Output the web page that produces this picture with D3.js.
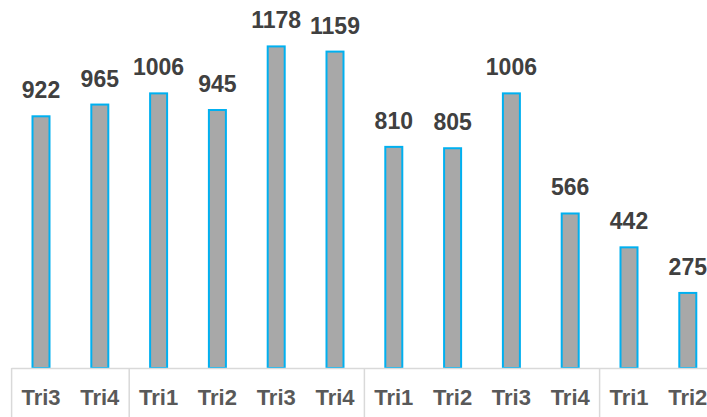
<!DOCTYPE html>
<head>
  <style>
    body { margin: 0; background: #fff; }
    .value-label {
      font-family: "Liberation Sans", Arial, sans-serif;
      font-size: 23px;
      font-weight: bold;
      fill: #404040;
    }
    .tick-label {
      font-family: "Liberation Sans", Arial, sans-serif;
      font-size: 22px;
      font-weight: bold;
      fill: #595959;
    }
  </style>
  <title>Trimestres</title>
</head>
<body>
  <script src="https://cdn.jsdelivr.net/npm/d3@7"></script>
  <script>
    // data
    const quarters = ["Tri3", "Tri4", "Tri1", "Tri2", "Tri3", "Tri4", "Tri1", "Tri2", "Tri3", "Tri4", "Tri1", "Tri2"];
    const values = [922, 965, 1006, 945, 1178, 1159, 810, 805, 1006, 566, 442, 275];

    const W = 707, H = 417;
    const baseY = 368;

    const data = quarters.map((q, i) => ({ i: i, q: q, v: values[i] }));

    const x = d3.scaleBand()
      .domain(data.map(d => d.i))
      .range([11.6, 11.6 + 12 * 58.8])
      .paddingInner(0)
      .paddingOuter(0);

    const y = d3.scaleLinear()
      .domain([0, 1348])
      .range([baseY, 0]);

    const svg = d3.select("body").append("svg")
      .attr("width", W)
      .attr("height", H);

    const barW = 17;

    // bars
    svg.append("g").selectAll("rect")
      .data(data)
      .enter()
      .append("rect")
      .attr("x", d => x(d.i) + x.bandwidth() / 2 - barW / 2)
      .attr("y", d => y(d.v))
      .attr("width", barW)
      .attr("height", d => baseY - y(d.v))
      .attr("fill", "#a8a8a8")
      .attr("stroke", "#00b0f0")
      .attr("stroke-width", 2);

    // axis line
    svg.append("line")
      .attr("x1", x.range()[0])
      .attr("x2", W)
      .attr("y1", baseY + 0.5)
      .attr("y2", baseY + 0.5)
      .attr("stroke", "#d9d9d9")
      .attr("stroke-width", 1.5);

    // group separators: left edge and before each Tri1
    const seps = [x.range()[0]].concat(data.filter(d => d.q === "Tri1").map(d => x(d.i)));
    svg.append("g").selectAll("line")
      .data(seps)
      .enter()
      .append("line")
      .attr("x1", d => d)
      .attr("x2", d => d)
      .attr("y1", baseY)
      .attr("y2", H)
      .attr("stroke", "#d9d9d9")
      .attr("stroke-width", 1.5);

    // value labels
    svg.append("g").selectAll("text")
      .data(data)
      .enter()
      .append("text")
      .attr("class", "value-label")
      .attr("x", d => x(d.i) + x.bandwidth() / 2)
      .attr("y", d => y(d.v) - 18)
      .attr("text-anchor", "middle")
      .text(d => d.v);

    // category labels
    svg.append("g").selectAll("text")
      .data(data)
      .enter()
      .append("text")
      .attr("class", "tick-label")
      .attr("x", d => x(d.i) + x.bandwidth() / 2)
      .attr("y", 405)
      .attr("text-anchor", "middle")
      .text(d => d.q);
  </script>
</body>
